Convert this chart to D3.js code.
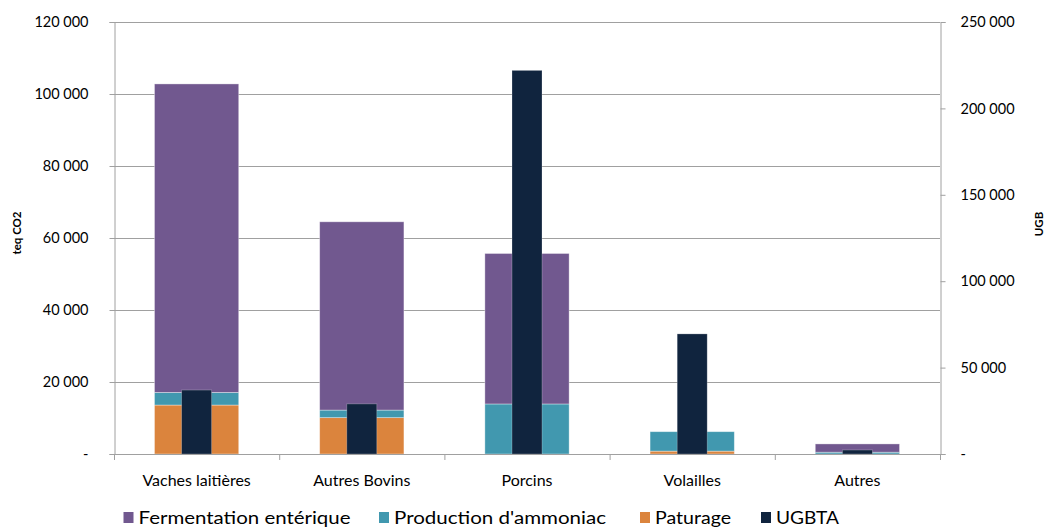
<!DOCTYPE html>
<html>
<head>
<meta charset="utf-8">
<script src="https://cdn.jsdelivr.net/npm/d3@7/dist/d3.min.js"></script>
<style>
  html, body { margin: 0; padding: 0; background: #fff; }
  svg { display: block; font-family: Lato, "Open Sans", sans-serif; }
</style>
</head>
<body>
<svg id="chart" width="1048" height="528"></svg>
<script>
// Livestock emissions (teq CO2, stacked) and herd size (UGB, secondary axis)
const categories = ["Vaches laitières", "Autres Bovins", "Porcins", "Volailles", "Autres"];
const fermentation = [85700, 52300, 41800, 0, 2300];
const ammoniac     = [3500, 2100, 13900, 5400, 500];
const paturage     = [13600, 10100, 0, 800, 0];
const ugbta        = [37000, 29000, 222000, 69500, 2300];

const leftTicks  = [0, 20000, 40000, 60000, 80000, 100000, 120000];
const rightTicks = [0, 50000, 100000, 150000, 200000, 250000];

const seriesNames  = ["Fermentation entérique", "Production d'ammoniac", "Paturage", "UGBTA"];
const seriesColors = ["#71588f", "#4198af", "#db843d", "#10243e"];

const svg = d3.select("#chart");
const plot = { left: 114, right: 940, top: 22, bottom: 454 };

const x = d3.scaleBand().domain(categories).range([plot.left, plot.right]).padding(0);
const yL = d3.scaleLinear().domain([0, 120000]).range([plot.bottom, plot.top]);
const yR = d3.scaleLinear().domain([0, 250000]).range([plot.bottom, plot.top]);

const fmt = v => v === 0 ? "-" : d3.format(",")(v).replace(/,/g, "\u202f");

// Gridlines
svg.append("g")
  .selectAll("line")
  .data(leftTicks)
  .join("line")
  .attr("x1", plot.left).attr("x2", plot.right)
  .attr("y1", d => yL(d) + 0.5).attr("y2", d => yL(d) + 0.5)
  .attr("stroke", "#a0a0a0").attr("stroke-width", 1);

// Stacked emissions bars
const rows = categories.map((c, i) => ({
  cat: c, Paturage: paturage[i], Ammoniac: ammoniac[i], Fermentation: fermentation[i]
}));
const keys = ["Paturage", "Ammoniac", "Fermentation"];
const keyColors = { Paturage: seriesColors[2], Ammoniac: seriesColors[1], Fermentation: seriesColors[0] };
const stack = d3.stack().keys(keys)(rows);

const stackW = x.bandwidth() * 0.51;
svg.append("g")
  .selectAll("g")
  .data(stack)
  .join("g")
  .attr("fill", d => keyColors[d.key])
  .selectAll("rect")
  .data(d => d.filter(p => p[1] - p[0] > 0))
  .join("rect")
  .attr("x", d => x(d.data.cat) + (x.bandwidth() - stackW) / 2)
  .attr("width", stackW)
  .attr("y", d => yL(d[1]))
  .attr("height", d => yL(d[0]) - yL(d[1]))
  .attr("stroke", "rgba(255,255,255,0.45)")
  .attr("stroke-width", 0.8);

// UGBTA bars on the secondary axis
const ugW = 30;
svg.append("g")
  .selectAll("rect")
  .data(categories.map((c, i) => ({ cat: c, v: ugbta[i] })))
  .join("rect")
  .attr("x", d => x(d.cat) + (x.bandwidth() - ugW) / 2)
  .attr("width", ugW)
  .attr("y", d => yR(d.v))
  .attr("height", d => yR(0) - yR(d.v))
  .attr("fill", seriesColors[3])
  .attr("stroke", "rgba(255,255,255,0.3)")
  .attr("stroke-width", 0.8);

// Axes
const axisColor = "#a0a0a0";
const leftAxis = svg.append("g")
  .attr("transform", `translate(${plot.left + 0.5},0)`)
  .call(d3.axisLeft(yL).tickValues(leftTicks).tickFormat(fmt).tickSize(5).tickPadding(21));
const rightAxis = svg.append("g")
  .attr("transform", `translate(${plot.right + 0.5},0)`)
  .call(d3.axisRight(yR).tickValues(rightTicks).tickFormat(fmt).tickSize(5).tickPadding(15));
const bottomAxis = svg.append("g")
  .attr("transform", `translate(0,${plot.bottom + 0.5})`)
  .call(d3.axisBottom(x).tickSize(0).tickPadding(20));

[leftAxis, rightAxis, bottomAxis].forEach(a => {
  a.select(".domain").attr("stroke", axisColor);
  a.selectAll(".tick line").attr("stroke", axisColor);
  a.selectAll("text").attr("fill", "#000").style("font-size", "14.5px").attr("font-family", "Lato, sans-serif");
});
bottomAxis.selectAll("text").style("font-size", "16px");
bottomAxis.select(".domain").attr("d", `M${plot.left},0H${plot.right}`);

// Category separators on the x axis
svg.append("g")
  .selectAll("line")
  .data(d3.range(categories.length + 1))
  .join("line")
  .attr("x1", i => plot.left + i * x.bandwidth() + 0.5)
  .attr("x2", i => plot.left + i * x.bandwidth() + 0.5)
  .attr("y1", plot.bottom).attr("y2", plot.bottom + 6)
  .attr("stroke", axisColor);

// Axis titles
svg.append("text")
  .attr("transform", `translate(21,233) rotate(-90)`)
  .attr("text-anchor", "middle")
  .style("font-size", "11.5px").style("font-weight", "bold")
  .text("teq CO2");
svg.append("text")
  .attr("transform", `translate(1043,224) rotate(-90)`)
  .attr("text-anchor", "middle")
  .style("font-size", "11.5px").style("font-weight", "bold")
  .text("UGB");

// Legend
const legendX = [123.5, 379, 640, 761];
const legendTextW = [212, 212, 76, 63];
const legend = svg.append("g");
seriesNames.forEach((name, i) => {
  legend.append("rect")
    .attr("x", legendX[i]).attr("y", 512)
    .attr("width", 10).attr("height", 11)
    .attr("fill", seriesColors[i]);
  legend.append("text")
    .attr("x", legendX[i] + 15).attr("y", 524)
    .style("font-size", "18px")
    .attr("textLength", legendTextW[i])
    .attr("lengthAdjust", "spacingAndGlyphs")
    .text(name);
});
</script>
</body>
</html>
